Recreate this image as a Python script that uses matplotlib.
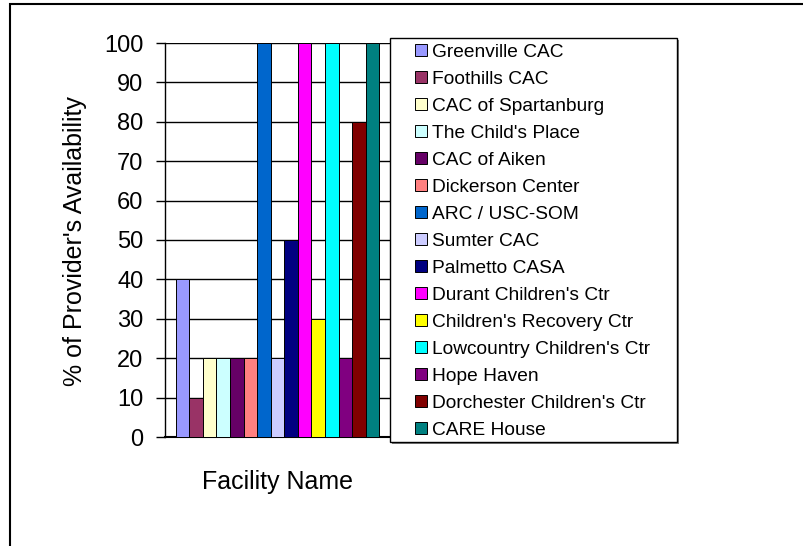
import matplotlib
matplotlib.use("Agg")
import matplotlib.pyplot as plt
from matplotlib.patches import Rectangle
import numpy as np

plt.rcParams['font.family'] = ['Liberation Sans', 'DejaVu Sans']

facilities = ["Greenville CAC", "Foothills CAC", "CAC of Spartanburg", "The Child's Place",
              "CAC of Aiken", "Dickerson Center", "ARC / USC-SOM", "Sumter CAC",
              "Palmetto CASA", "Durant Children's Ctr", "Children's Recovery Ctr",
              "Lowcountry Children's Ctr", "Hope Haven", "Dorchester Children's Ctr", "CARE House"]
values = [40, 10, 20, 20, 20, 20, 100, 20, 50, 100, 30, 100, 20, 80, 100]
colors = ["#9999FF", "#993366", "#FFFFCC", "#CCFFFF", "#660066", "#FF8080", "#0066CC",
          "#CCCCFF", "#000080", "#FF00FF", "#FFFF00", "#00FFFF", "#800080", "#800000", "#008080"]
yticks = [0, 10, 20, 30, 40, 50, 60, 70, 80, 90, 100]

W, H = 804, 546
fig = plt.figure(figsize=(W / 100, H / 100), dpi=100)
fig.patch.set_facecolor("white")

# outer chart border (extends past right and bottom edges)
fig.patches.append(Rectangle((10 / W, -0.05), 1.1, 1 - 4.5 / H + 0.05,
                             transform=fig.transFigure, fill=False,
                             edgecolor="black", linewidth=1.5))

ax_l, ax_r, ax_t, ax_b = 165, 390, 43, 437
ax = fig.add_axes([ax_l / W, 1 - ax_b / H, (ax_r - ax_l) / W, (ax_b - ax_t) / H])

n = len(values)
group = 0.906
bw = group / n
xs = -group / 2 + bw * (np.arange(n) + 0.5)
handles = []
for x, v, c, name in zip(xs, values, colors, facilities):
    b = ax.bar(x, v, width=bw, color=c, edgecolor="black", linewidth=0.7, label=name, zorder=3)
    handles.append(b)

ax.set_xlim(-0.5, 0.5)
ax.set_ylim(0, 100)
ax.set_yticks(yticks)
ax.set_yticklabels([str(t) for t in yticks], fontsize=17)
ax.set_xticks([])
ax.yaxis.grid(True, color="black", linewidth=1.0, zorder=0)
ax.set_axisbelow(True)
for s in ["top", "right"]:
    ax.spines[s].set_visible(False)
ax.spines["left"].set_linewidth(1.0)
ax.spines["bottom"].set_linewidth(1.5)
ax.tick_params(axis="y", direction="out", length=6.5, width=1.0, pad=9)

fig.text(75 / W, 1 - 241 / H, "% of Provider's Availability", rotation=90,
         ha="center", va="center", fontsize=18)
fig.text(277 / W, 1 - 482 / H, "Facility Name", ha="center", va="center", fontsize=18)

# legend with shadow
lx0, lx1, ly0, ly1 = 390, 677, 38, 442
fig.patches.append(Rectangle(((lx0 + 2) / W, 1 - (ly1 + 2) / H), (lx1 - lx0) / W, (ly1 - ly0) / H,
                             transform=fig.transFigure, facecolor="#808080", edgecolor="none", zorder=5))
fig.patches.append(Rectangle((lx0 / W, 1 - ly1 / H), (lx1 - lx0) / W, (ly1 - ly0) / H,
                             transform=fig.transFigure, facecolor="white", edgecolor="black",
                             linewidth=1.0, zorder=5.5))
leg = fig.legend(handles, facilities, loc="upper left",
                 bbox_to_anchor=((lx0 + 25) / W, 1 - (ly0 + 6) / H),
                 fontsize=13.8, frameon=False, borderpad=0.0,
                 labelspacing=0.52, handlelength=0.62, handleheight=0.62, handletextpad=0.28,
                 borderaxespad=0.0)
leg.set_zorder(6)

fig.savefig("out.png", dpi=100, facecolor="white")
